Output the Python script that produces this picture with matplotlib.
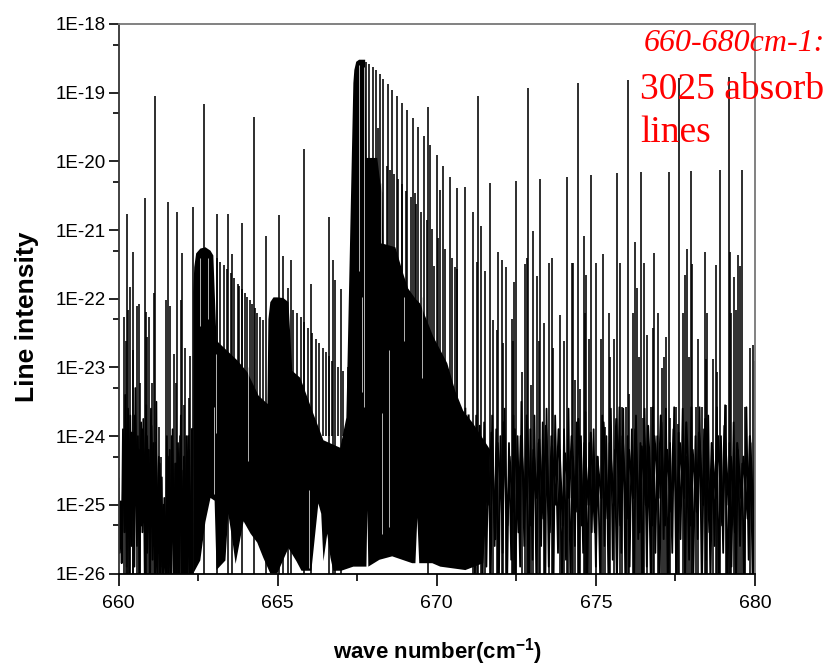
import numpy as np
import matplotlib
matplotlib.use('Agg')
import matplotlib.pyplot as plt

# all intensities are log10 values

# isolated strong lines, left of 671
strong_x = [660.28, 660.35, 660.44, 660.82, 661.13, 661.16, 661.54, 661.85, 662.01, 662.35,
            662.70, 663.08, 663.45, 663.58, 663.89, 664.27, 664.65, 665.05, 665.18, 665.34,
            665.43, 665.84, 666.06, 666.62, 666.75, 666.81, 667.00, 669.73]
strong_y = [-20.76, -21.83, -21.32, -20.54, -21.91, -19.05, -20.59, -20.74, -21.34, -20.67,
            -19.17, -20.76, -20.76, -21.35, -20.90, -19.36, -21.09, -20.78, -21.38, -21.85,
            -21.43, -19.82, -21.78, -20.81, -21.43, -21.72, -21.86, -19.21]

# comb of the 662.6 band
band1_x = [663.11, 663.20, 663.30, 663.42, 663.52, 663.64, 663.74, 663.80, 663.89, 663.96,
           664.05, 664.13, 664.21, 664.30, 664.36, 664.46, 664.55]
band1_y = [-21.40, -21.47, -21.51, -21.56, -21.63, -21.70, -21.78, -21.82, -21.86, -21.91,
           -21.97, -22.02, -22.07, -22.14, -22.21, -22.26, -22.31]

# comb of the 665 band
band2_x = [665.49, 665.62, 665.75, 665.84, 665.97, 666.09, 666.22, 666.31, 666.44, 666.53,
           666.63, 666.72, 666.91, 667.06, 667.22]
band2_y = [-22.17, -22.21, -22.27, -22.34, -22.43, -22.50, -22.58, -22.64, -22.71, -22.78,
           -22.84, -22.90, -23.00, -23.05, -23.00]

# comb of the 667.6 band, upper ridge
band3_x = [667.79, 667.88, 668.01, 668.10, 668.23, 668.32, 668.48, 668.60, 668.76, 668.92,
           669.07, 669.26, 669.42, 669.61, 669.80, 670.02, 670.20, 670.42, 670.64, 670.89]
band3_y = [-18.55, -18.58, -18.63, -18.67, -18.73, -18.80, -18.87, -18.96, -19.05, -19.15,
           -19.25, -19.37, -19.50, -19.63, -19.76, -19.91, -20.07, -20.23, -20.39, -20.38]

# 667.6 band, lower ridge
ridge_x = [668.16, 668.45, 668.54, 668.67, 668.79, 668.92, 669.04, 669.20, 669.33, 669.36,
           669.51, 669.70, 669.86, 669.92, 670.05, 670.11, 670.27, 670.49, 670.58, 670.64]
ridge_y = [-19.52, -20.07, -20.13, -20.19, -20.26, -20.33, -20.43, -20.52, -20.46, -20.62,
           -20.74, -20.86, -20.99, -21.53, -21.12, -20.42, -21.27, -21.41, -21.54, -21.57]

# strong lines right of 671
right_x = [671.15, 671.27, 671.30, 671.40, 671.52, 671.68, 671.93, 672.06, 672.18, 672.43,
           672.50, 672.78, 672.84, 672.87, 673.03, 673.16, 673.25, 673.53, 673.63, 674.10,
           674.25, 674.29, 674.44, 674.63, 674.69, 674.85, 675.01, 675.23, 675.67, 675.76,
           676.01, 676.23, 676.30, 676.42, 676.52, 676.83, 677.30, 677.61, 677.80, 677.87,
           677.99, 678.02, 678.43, 678.78, 678.90, 679.18, 679.21, 679.34, 679.47, 679.53,
           679.59]
right_y = [-20.74, -21.47, -19.05, -20.94, -21.60, -20.32, -21.32, -21.44, -21.54, -21.76,
           -20.29, -21.50, -21.41, -18.93, -21.02, -21.67, -20.26, -21.48, -21.40, -20.23,
           -21.48, -21.48, -18.86, -21.09, -21.66, -20.20, -21.48, -21.35, -20.17, -21.48,
           -18.82, -21.18, -21.85, -20.16, -21.48, -21.34, -20.16, -18.79, -21.66, -21.27,
           -20.14, -21.50, -21.32, -21.51, -20.13, -18.77, -21.32, -21.69, -21.37, -21.53,
           -20.13]

# weaker lines
weak_x = [660.16, 660.22, 660.31, 660.47, 660.57, 660.63, 660.69, 660.85, 660.91, 660.97,
          661.04, 661.26, 661.35, 661.48, 661.63, 661.73, 661.82, 661.95, 662.07, 662.10,
          662.20, 662.26,
          671.77, 671.90, 672.09, 672.37, 672.40, 672.68, 672.97, 673.22, 673.37, 673.66,
          673.88, 674.00, 674.13, 674.35, 674.51, 674.66, 674.79, 675.17, 675.29, 675.42,
          675.45, 675.57, 675.82, 675.95, 676.04, 676.17, 676.36, 676.48, 676.61, 676.74,
          676.80, 676.95, 677.08, 677.14, 677.21, 677.33, 677.52, 677.58, 677.74, 677.93,
          678.15, 678.21, 678.34, 678.46, 678.49, 678.68, 678.81, 679.09, 679.25, 679.40,
          679.69, 679.84, 679.94, 680.00]
weak_y = [-22.27, -22.61, -22.17, -22.75, -22.10, -22.07, -23.23, -22.20, -22.56, -22.27,
          -23.23, -23.87, -24.31, -22.02, -22.10, -22.80, -23.23, -22.02, -23.55, -22.72,
          -23.44, -22.83,
          -22.31, -22.46, -22.65, -22.29, -22.61, -23.07, -23.26, -22.61, -22.36, -22.71,
          -22.24, -22.61, -24.04, -23.19, -23.31, -22.21, -22.58, -22.58, -23.87, -22.21,
          -22.85, -22.58, -23.58, -23.58, -23.38, -22.21, -22.85, -23.73, -22.53, -23.58,
          -22.42, -22.21, -23.01, -22.85, -22.56, -23.73, -23.58, -23.82, -22.21, -22.85,
          -23.58, -22.58, -23.58, -22.87, -22.21, -22.87, -23.07, -23.55, -22.21, -22.17,
          -23.58, -22.72, -22.68, -22.90]

# weak line forest, left part
left_x = [660.00, 660.03, 660.07, 660.10, 660.14, 660.19, 660.21, 660.26, 660.30, 660.34,
          660.37, 660.41, 660.46, 660.50, 660.53, 660.58, 660.61, 660.66, 660.71, 660.75,
          660.78, 660.83, 660.87, 660.90, 660.95, 660.99, 661.02, 661.07, 661.10, 661.15,
          661.19, 661.22, 661.27, 661.31, 661.36, 661.40, 661.44, 661.49, 661.52, 661.57,
          661.61, 661.65, 661.70, 661.74, 661.78, 661.83, 661.87, 661.91, 661.96, 662.00,
          662.04, 662.09, 662.13, 662.17, 662.21, 662.25, 662.30, 662.33]
left_y = [-24.62, -25.70, -24.95, -25.85, -23.90, -25.40, -23.40, -25.90, -23.60, -26.30,
          -23.70, -25.60, -23.95, -25.90, -23.30, -25.60, -24.00, -26.20, -23.80, -25.40,
          -23.75, -26.30, -23.55, -25.70, -24.20, -26.40, -23.60, -25.80, -24.10, -26.40,
          -23.50, -26.50, -24.30, -26.40, -24.60, -26.50, -24.90, -26.50, -24.00, -26.50,
          -24.20, -26.50, -23.90, -26.50, -24.40, -26.50, -24.10, -26.40, -23.70, -26.30,
          -24.50, -26.40, -24.00, -26.30, -24.20, -26.40, -23.90, -26.30]

# second layer of the left forest
left2_x = [660.05, 660.12, 660.17, 660.24, 660.29, 660.36, 660.40, 660.48, 660.52, 660.60,
           660.64, 660.73, 660.77, 660.85, 660.89, 660.98, 661.03, 661.12, 661.17, 661.25,
           661.29, 661.38, 661.42, 661.51, 661.55, 661.64, 661.68, 661.77, 661.81, 661.90,
           661.94, 662.03, 662.06, 662.15, 662.19, 662.28, 662.32]
left2_y = [-25.00, -25.40, -24.10, -25.20, -23.80, -25.30, -23.95, -25.00, -23.70, -25.20,
           -24.20, -25.30, -23.90, -24.90, -24.00, -25.40, -23.85, -25.60, -24.10, -25.70,
           -24.40, -25.90, -25.00, -26.10, -24.30, -25.90, -24.00, -26.00, -24.40, -26.10,
           -24.00, -26.20, -24.30, -26.00, -24.00, -26.20, -23.90]

# weak line forest, right part
far_x = [670.90, 670.96, 671.02, 671.07, 671.12, 671.20, 671.24, 671.33, 671.37, 671.44,
         671.49, 671.56, 671.62, 671.70, 671.74, 671.82, 671.87, 671.95, 672.00, 672.07,
         672.13, 672.21, 672.27, 672.34, 672.41, 672.47, 672.54, 672.62, 672.66, 672.75,
         672.81, 672.90, 672.94, 673.01, 673.07, 673.13, 673.20, 673.28, 673.33, 673.41,
         673.45, 673.52, 673.60, 673.67, 673.72, 673.81, 673.86, 673.94, 674.00, 674.06,
         674.14, 674.20, 674.27, 674.34, 674.40, 674.47, 674.53, 674.60, 674.67, 674.72,
         674.80, 674.87, 674.93, 675.00, 675.06, 675.14, 675.20, 675.27, 675.33, 675.40,
         675.47, 675.53, 675.60, 675.66, 675.74, 675.80, 675.86, 675.93, 676.00, 676.06,
         676.13, 676.20, 676.26, 676.33, 676.40, 676.46, 676.53, 676.60, 676.66, 676.73,
         676.79, 676.87, 676.93, 677.00, 677.06, 677.13, 677.20, 677.26, 677.33, 677.40,
         677.46, 677.53, 677.60, 677.66, 677.73, 677.80, 677.86, 677.93, 678.00, 678.06,
         678.13, 678.20, 678.26, 678.33, 678.40, 678.46, 678.53, 678.60, 678.66, 678.73,
         678.80, 678.86, 678.93, 679.00, 679.06, 679.13, 679.20, 679.26, 679.33, 679.40,
         679.46, 679.53, 679.60, 679.66, 679.73, 679.80, 679.86, 679.93, 680.00]
far_y = [-23.60, -25.90, -23.90, -25.60, -24.10, -26.20, -23.70, -25.80, -24.00, -26.30,
         -23.80, -25.90, -24.20, -26.10, -23.70, -25.60, -23.90, -26.30, -24.00, -25.70,
         -23.60, -26.20, -24.10, -25.80, -23.70, -26.30, -24.00, -25.90, -23.50, -25.60,
         -24.20, -26.30, -23.90, -25.80, -23.70, -26.20, -24.10, -25.60, -23.80, -26.30,
         -23.60, -25.90, -24.00, -26.10, -23.70, -25.70, -24.20, -26.30, -23.90, -25.80,
         -23.60, -26.20, -24.30, -25.60, -23.80, -26.10, -24.00, -25.70, -23.65, -26.30,
         -24.10, -25.40, -23.90, -25.90, -24.30, -26.20, -23.70, -25.60, -24.00, -26.30,
         -23.60, -25.80, -24.20, -26.20, -23.58, -25.70, -23.60, -26.30, -24.00, -25.90,
         -23.90, -26.20, -23.70, -25.50, -24.10, -26.40, -23.60, -25.90, -24.20, -26.30,
         -23.58, -25.70, -24.00, -26.40, -23.80, -25.50, -23.60, -26.20, -24.10, -25.70,
         -23.58, -26.30, -23.95, -25.50, -23.60, -26.20, -24.30, -25.80, -23.58, -26.10,
         -24.00, -25.50, -23.58, -26.30, -23.90, -25.80, -23.70, -26.20, -24.20, -25.60,
         -23.58, -26.30, -24.00, -25.70, -23.55, -26.40, -24.10, -25.90, -23.80, -26.30,
         -24.20, -25.60, -24.40, -26.30, -23.58, -25.80, -24.10, -26.20, -23.90]

# second layer of the right forest
far2_x = [671.00, 671.10, 671.17, 671.29, 671.35, 671.47, 671.53, 671.65, 671.72, 671.84,
          671.91, 672.03, 672.10, 672.22, 672.29, 672.39, 672.45, 672.57, 672.64, 672.77,
          672.83, 672.96, 673.04, 673.15, 673.22, 673.35, 673.43, 673.55, 673.62, 673.75,
          673.83, 673.96, 674.03, 674.16, 674.24, 674.37, 674.45, 674.56, 674.64, 674.77,
          674.84, 674.97, 675.04, 675.17, 675.24, 675.37, 675.44, 675.57, 675.64, 675.77,
          675.84, 675.97, 676.04, 676.17, 676.24, 676.37, 676.44, 676.57, 676.64, 676.77,
          676.84, 676.97, 677.04, 677.17, 677.24, 677.37, 677.44, 677.57, 677.64, 677.77,
          677.84, 677.97, 678.04, 678.17, 678.24, 678.37, 678.44, 678.57, 678.64, 678.77,
          678.84, 678.97, 679.04, 679.17, 679.24, 679.37, 679.44, 679.57, 679.64, 679.77,
          679.84, 679.97]
far2_y = [-23.70, -25.30, -24.00, -25.10, -23.85, -25.40, -24.20, -25.00, -23.95, -25.50,
          -24.10, -24.90, -23.80, -25.30, -24.30, -25.10, -23.90, -25.40, -24.00, -25.00,
          -23.70, -25.30, -24.20, -24.90, -24.05, -25.20, -23.85, -25.40, -24.15, -25.00,
          -23.90, -25.30, -24.25, -24.90, -24.00, -25.10, -23.75, -25.30, -24.10, -25.00,
          -23.95, -25.40, -24.30, -24.90, -23.80, -25.20, -24.10, -25.00, -23.75, -25.30,
          -24.00, -25.20, -24.20, -24.90, -23.90, -25.40, -24.15, -25.00, -23.85, -25.30,
          -24.00, -24.90, -23.70, -25.30, -24.20, -25.10, -23.90, -25.40, -24.10, -24.90,
          -23.80, -25.30, -24.20, -25.10, -23.95, -25.00, -23.75, -25.40, -24.10, -24.90,
          -24.00, -25.30, -23.85, -25.00, -24.30, -25.40, -24.10, -24.90, -24.30, -25.20,
          -24.00, -25.30]

# unresolved black mass of the three bands, top and bottom outline
mass_top_x = [662.35, 662.38, 662.44, 662.57, 662.73, 662.89, 662.98, 663.08, 663.74, 664.05,
              664.40, 664.68, 664.71, 664.77, 664.87, 664.99, 665.18, 665.34, 665.46, 665.71,
              666.12, 666.44, 666.97, 667.16, 667.38, 667.41, 667.47, 667.56, 667.75, 667.79,
              667.85, 668.13, 668.23, 668.29, 668.32, 668.70, 668.95, 669.10, 669.33, 669.48,
              669.89, 670.33, 670.58, 670.83, 671.15, 671.68]
mass_top_y = [-21.90, -21.54, -21.34, -21.27, -21.25, -21.30, -21.37, -22.61, -22.90, -23.07,
              -23.41, -23.53, -22.30, -22.05, -21.98, -21.98, -21.99, -22.05, -23.05, -23.15,
              -23.67, -24.06, -24.17, -23.73, -18.86, -18.67, -18.55, -18.52, -18.52, -19.95,
              -19.95, -19.95, -20.32, -20.46, -21.20, -21.25, -21.64, -21.85, -22.00, -22.07,
              -22.55, -22.94, -23.34, -23.63, -23.82, -24.20]
mass_low_x = [662.35, 662.57, 662.73, 662.89, 663.02, 663.08, 663.36, 663.45, 663.58, 663.68,
              663.93, 664.15, 664.36, 664.55, 664.77, 664.99, 665.34, 665.59, 665.75, 666.06,
              666.28, 666.37, 666.44, 666.56, 666.66, 666.75, 667.00, 667.38, 667.79, 667.82,
              667.85, 668.20, 668.60, 669.23, 669.33, 669.39, 669.45, 669.86, 670.11, 670.90,
              671.46]
mass_low_y = [-26.00, -25.81, -25.25, -24.90, -24.94, -25.95, -25.81, -25.13, -25.52, -25.86,
              -25.24, -25.42, -25.55, -25.77, -26.00, -26.00, -25.63, -25.82, -25.96, -25.96,
              -24.98, -25.13, -25.82, -25.42, -25.77, -25.96, -25.96, -25.90, -25.90, -25.08,
              -25.90, -25.80, -25.75, -25.85, -25.85, -25.19, -25.85, -25.85, -25.90, -25.95,
              -25.85]

# thin pale slits inside the black mass: position, upper end, lower end
slit_x = [667.57, 667.65, 667.70, 668.26, 668.29, 668.51, 668.98, 669.54, 663.05, 663.01,
          664.08, 665.99, 662.55, 662.82]
slit_top = [-18.60, -21.98, -18.62, -20.32, -23.67, -22.75, -21.98, -21.98, -22.80, -23.58,
            -23.00, -24.79, -21.40, -21.40]
slit_low = [-21.60, -23.36, -23.58, -21.19, -25.42, -25.33, -22.61, -23.15, -23.96, -24.84,
            -24.36, -25.92, -22.40, -22.30]

ticks_x = [660, 665, 670, 675, 680]
minor_x = [662.5, 667.5, 672.5, 677.5]
ticks_y = [1e-26, 1e-25, 1e-24, 1e-23, 1e-22, 1e-21, 1e-20, 1e-19, 1e-18]
minor_y = [5e-26, 5e-25, 5e-24, 5e-23, 5e-22, 5e-21, 5e-20, 5e-19]
labels_y = ['1E-26', '1E-25', '1E-24', '1E-23', '1E-22', '1E-21', '1E-20', '1E-19', '1E-18']

bottom_base = -26.5   # sticks run off the bottom of the axes
band_base = -24.0

plt.rcParams['font.family'] = ['Liberation Sans', 'DejaVu Sans']
plt.rcParams['mathtext.fontset'] = 'custom'
plt.rcParams['mathtext.bf'] = 'Liberation Sans:bold'
plt.rcParams['mathtext.rm'] = 'Liberation Sans'

fig = plt.figure(figsize=(8.32, 6.67), dpi=100)
ax = fig.add_axes([118.5/832, 1-573.5/667, (755-118.5)/832, (573.5-24)/667])

ax.fill(np.r_[mass_top_x, mass_low_x[::-1]],
        10.0**np.r_[mass_top_y, mass_low_y[::-1]], color='black', lw=0)

lw = 1.15
ax.vlines(strong_x, 10.0**bottom_base, 10.0**np.array(strong_y), color='black', lw=lw)
ax.vlines(band1_x, 10.0**band_base, 10.0**np.array(band1_y), color='black', lw=lw)
ax.vlines(band2_x, 10.0**band_base, 10.0**np.array(band2_y), color='black', lw=lw)
ax.vlines(band3_x, 10.0**band_base, 10.0**np.array(band3_y), color='black', lw=lw)
ax.vlines(ridge_x, 10.0**band_base, 10.0**np.array(ridge_y), color='black', lw=lw)
ax.vlines(right_x, 10.0**bottom_base, 10.0**np.array(right_y), color='black', lw=lw)
ax.vlines(weak_x, 10.0**bottom_base, 10.0**np.array(weak_y), color='black', lw=lw)
ax.plot(left_x, 10.0**np.array(left_y), color='black', lw=1.3)
ax.plot(left2_x, 10.0**np.array(left2_y), color='black', lw=1.5)
ax.plot(far_x, 10.0**np.array(far_y), color='black', lw=1.3)
ax.plot(far2_x, 10.0**np.array(far2_y), color='black', lw=1.5)
ax.vlines(slit_x, 10.0**np.array(slit_low), 10.0**np.array(slit_top), color='#d0d0d0', lw=0.6)

ax.set_yscale('log')
ax.set_xlim(660, 680)
ax.set_ylim(1e-26, 1e-18)
ax.set_xticks(ticks_x)
ax.set_xticks(minor_x, minor=True)
ax.set_yticks(ticks_y, labels_y)
ax.set_yticks(minor_y, [''] * len(minor_y), minor=True)

ax.tick_params(axis='y', which='major', length=7, width=1.2, labelsize=13.5, pad=2)
ax.tick_params(axis='y', which='minor', length=4, width=1.2)
ax.tick_params(axis='x', which='major', length=8.5, width=1.2, labelsize=14, pad=7)
ax.tick_params(axis='x', which='minor', length=5, width=1.2)

ax.spines['left'].set_linewidth(1.3)
ax.spines['left'].set_color('#333333')
ax.spines['bottom'].set_linewidth(1.3)
ax.spines['top'].set_color('#777777')
ax.spines['right'].set_color('#777777')
ax.spines['top'].set_linewidth(1.3)
ax.spines['right'].set_linewidth(1.3)

fig.text(27/832, 1-317/667, 'Line intensity', rotation=90, ha='center', va='center',
         fontsize=19, fontweight='bold')
fig.text(437/832, 1-652/667, r'wave number(cm$^{\mathbf{-1}}$)', ha='center', va='center',
         fontsize=16, fontweight='bold')

fig.text(644/832, 1-51/667, '660-680cm-1:', color='red', fontsize=23, style='italic',
         family='Liberation Serif', va='baseline')
fig.text(640/832, 1-99/667, '3025 absorb', color='red', fontsize=27,
         family='Liberation Serif', va='baseline')
fig.text(640/832, 1-142/667, 'lines', color='red', fontsize=27,
         family='Liberation Serif', va='baseline')

fig.savefig('out.png', dpi=100)
